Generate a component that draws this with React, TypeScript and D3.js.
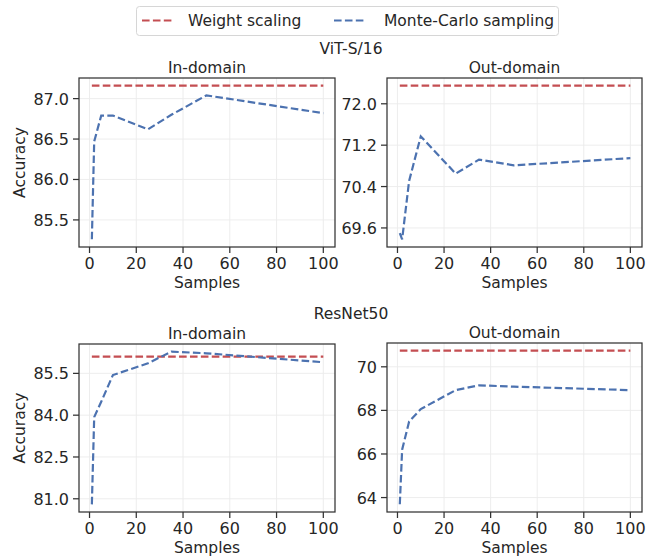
import React from "react";
import * as d3 from "d3";

// sample counts used on the x axis
const samples = [1, 2, 5, 10, 25, 35, 50, 100];
const xTicks = [0, 20, 40, 60, 80, 100];

// ViT-S/16
const vitInMC = [85.26, 86.47, 86.79, 86.79, 86.62, 86.8, 87.04, 86.82];
const vitInWS = 87.16;
const vitInTicks = [85.5, 86.0, 86.5, 87.0];
const vitOutMC = [69.5, 69.38, 70.51, 71.37, 70.65, 70.92, 70.81, 70.95];
const vitOutWS = 72.35;
const vitOutTicks = [69.6, 70.4, 71.2, 72.0];

// ResNet50
const resInMC = [80.8, 83.93, 84.48, 85.44, 85.86, 86.28, 86.22, 85.9];
const resInWS = 86.1;
const resInTicks = [81.0, 82.5, 84.0, 85.5];
const resOutMC = [63.69, 66.2, 67.49, 68.06, 68.93, 69.15, 69.09, 68.93];
const resOutWS = 70.74;
const resOutTicks = [64, 66, 68, 70];

const RED = "#C44E52";
const BLUE = "#4C72B0";
const TXT = "#262626";
const FONT = "DejaVu Sans";

type PanelProps = {
  x0: number;
  x1: number;
  y0: number;
  y1: number;
  title: string;
  mc: number[];
  ws: number;
  yTicks: number[];
  fmt: (v: number) => string;
  ylabel?: boolean;
};

function Panel({ x0, x1, y0, y1, title, mc, ws, yTicks, fmt, ylabel }: PanelProps) {
  const xs = d3.scaleLinear().domain([-4.5, 105]).range([x0, x1]);
  const lo = Math.min(d3.min(mc) as number, ws);
  const hi = Math.max(d3.max(mc) as number, ws);
  const m = (hi - lo) * 0.05;
  const ys = d3.scaleLinear().domain([lo - m, hi + m]).range([y1, y0]);

  const line = d3
    .line<number>()
    .x((_, i) => xs(samples[i]))
    .y((d) => ys(d));
  const wsLine = samples.map(() => ws);

  return (
    <g>
      {xTicks.map((t) => (
        <line key={"gx" + t} x1={xs(t)} x2={xs(t)} y1={y0} y2={y1} stroke="#ebebeb" strokeWidth={0.9} />
      ))}
      {yTicks.map((t) => (
        <line key={"gy" + t} x1={x0} x2={x1} y1={ys(t)} y2={ys(t)} stroke="#ebebeb" strokeWidth={0.9} />
      ))}
      <path d={line(wsLine) || ""} fill="none" stroke={RED} strokeWidth={2.2} strokeDasharray="7.6,3.3" />
      <path d={line(mc) || ""} fill="none" stroke={BLUE} strokeWidth={2.2} strokeDasharray="7.6,3.3" />
      <rect x={x0} y={y0} width={x1 - x0} height={y1 - y0} fill="none" stroke="#333" strokeWidth={1.25} />
      {xTicks.map((t) => (
        <g key={"tx" + t}>
          <line x1={xs(t)} x2={xs(t)} y1={y1} y2={y1 + 6} stroke="#333" strokeWidth={1.25} />
          <text x={xs(t)} y={y1 + 21.5} textAnchor="middle" fontSize={16} fill={TXT} fontFamily={FONT}>
            {t}
          </text>
        </g>
      ))}
      {yTicks.map((t) => (
        <g key={"ty" + t}>
          <line x1={x0 - 6} x2={x0} y1={ys(t)} y2={ys(t)} stroke="#333" strokeWidth={1.25} />
          <text x={x0 - 10} y={ys(t) + 6} textAnchor="end" fontSize={16} fill={TXT} fontFamily={FONT}>
            {fmt(t)}
          </text>
        </g>
      ))}
      <text x={(x0 + x1) / 2} y={y0 - 5} textAnchor="middle" fontSize={15.5} fill={TXT} fontFamily={FONT}>
        {title}
      </text>
      <text x={(x0 + x1) / 2} y={y1 + 41} textAnchor="middle" fontSize={15.5} fill={TXT} fontFamily={FONT}>
        Samples
      </text>
      {ylabel && (
        <text
          transform={`translate(25, ${(y0 + y1) / 2}) rotate(-90)`}
          textAnchor="middle"
          fontSize={15.5}
          fill={TXT}
          fontFamily={FONT}
        >
          Accuracy
        </text>
      )}
    </g>
  );
}

export default function App() {
  const f1 = d3.format(".1f");
  const f0 = d3.format("d");
  return (
    <svg width={648} height={556} style={{ position: "absolute", left: 0, top: 0, background: "#fff" }}>
      {/* legend */}
      <rect x={136.5} y={6.5} width={422} height={29} rx={3} fill="#fff" stroke="#d6d6d6" />
      <line x1={142} x2={172} y1={20.5} y2={20.5} stroke={RED} strokeWidth={2.2} strokeDasharray="7.6,3.3" />
      <text x={188} y={26} fontSize={15.5} fill={TXT} fontFamily={FONT}>Weight scaling</text>
      <line x1={334} x2={364} y1={20.5} y2={20.5} stroke={BLUE} strokeWidth={2.2} strokeDasharray="7.6,3.3" />
      <text x={384} y={26} fontSize={15.5} fill={TXT} fontFamily={FONT}>Monte-Carlo sampling</text>

      <text x={351} y={54} textAnchor="middle" fontSize={15.5} fill={TXT} fontFamily={FONT}>ViT-S/16</text>
      <text x={351} y={319} textAnchor="middle" fontSize={15.5} fill={TXT} fontFamily={FONT}>ResNet50</text>

      <Panel x0={79} x1={335} y0={78} y1={247} title="In-domain" mc={vitInMC} ws={vitInWS} yTicks={vitInTicks} fmt={f1} ylabel />
      <Panel x0={387} x1={642} y0={78} y1={247} title="Out-domain" mc={vitOutMC} ws={vitOutWS} yTicks={vitOutTicks} fmt={f1} />
      <Panel x0={79} x1={335} y0={344} y1={512} title="In-domain" mc={resInMC} ws={resInWS} yTicks={resInTicks} fmt={f1} ylabel />
      <Panel x0={387} x1={642} y0={343} y1={512} title="Out-domain" mc={resOutMC} ws={resOutWS} yTicks={resOutTicks} fmt={f0} />
    </svg>
  );
}
